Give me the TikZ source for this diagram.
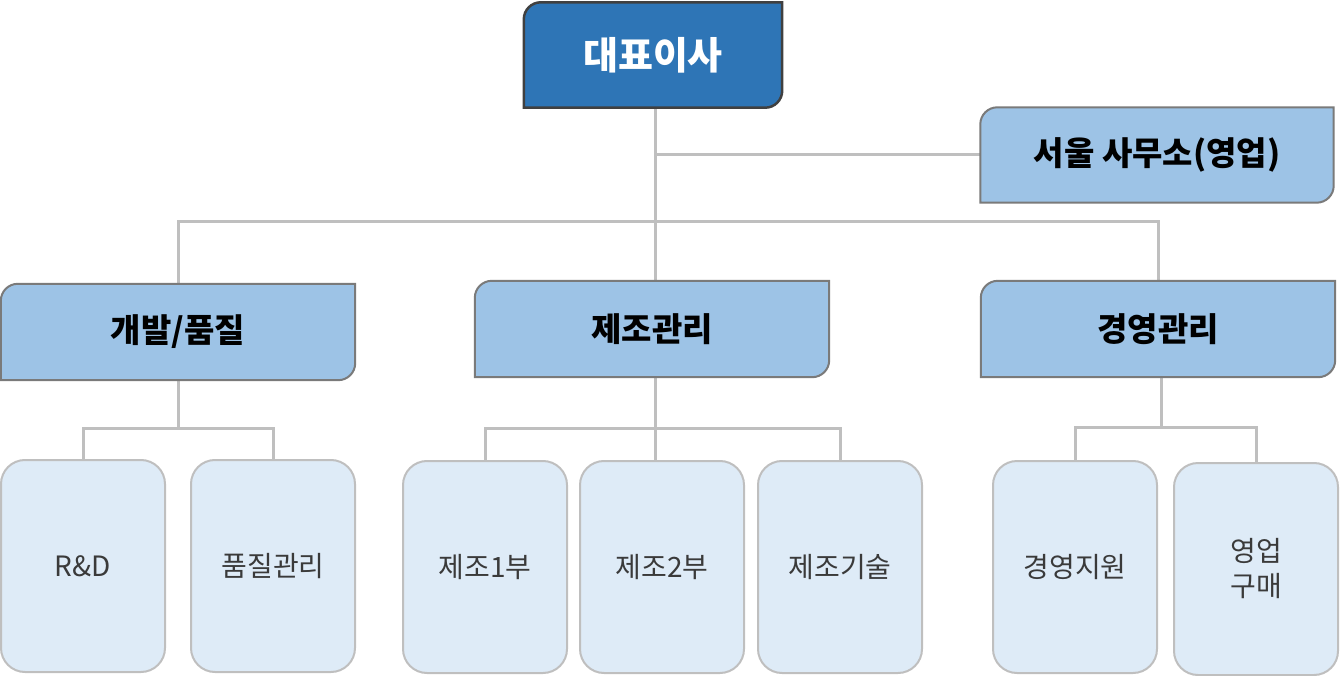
\documentclass[tikz,border=0pt]{standalone}
\usepackage{fontspec}
\newfontfamily\kr{Noto Sans CJK KR}
\usetikzlibrary{backgrounds}
\definecolor{ceofill}{HTML}{2E75B6}
\definecolor{deptfill}{HTML}{9DC3E6}
\definecolor{teamfill}{HTML}{DEEBF7}
\definecolor{linegray}{HTML}{BFBFBF}
\definecolor{edgegray}{HTML}{7A7A7A}
\definecolor{ink}{HTML}{3A3A3A}
\tikzset{
  headbox/.style={minimum width=354, minimum height=96, inner sep=0,
    font=\kr\bfseries\fontsize{33}{38}\selectfont},
  teambox/.style={draw=linegray, line width=2, fill=teamfill, rounded corners=24,
    minimum width=164, minimum height=212, inner sep=0, text=ink, align=center,
    font=\kr\fontsize{28}{35}\selectfont},
  link/.style={draw=linegray, line width=3}
}
\begin{document}
\begin{tikzpicture}[x=1pt,y=-1pt]
  \useasboundingbox (0,0) rectangle (1341,676);

  % top
  \node[headbox, minimum width=258, minimum height=105, text=white,
    font=\kr\bfseries\fontsize{38}{42}\selectfont] (ceo) at (653,55) {대표이사};
  \node[headbox, minimum width=353, minimum height=95] (seoul) at (1157,155) {서울 사무소(영업)};

  % departments
  \node[headbox] (dev) at (178,332) {개발/품질};
  \node[headbox] (mfg) at (652,329) {제조관리};
  \node[headbox] (mgmt) at (1158,329) {경영관리};

  % teams
  \node[teambox] (rd) at (83,566) {R\&D};
  \node[teambox] (qc) at (273,566) {품질관리};
  \node[teambox] (m1) at (485,567) {제조1부};
  \node[teambox] (m2) at (662,567) {제조2부};
  \node[teambox] (mt) at (840,567) {제조기술};
  \node[teambox] (ms) at (1075,567) {경영지원};
  \node[teambox] (sp) at (1256,569) {영업\\구매};

  \begin{scope}[on background layer]
  \draw[link] (655,107) -- (655,281);
  \draw[link] (655,155) -- (seoul.west);
  \draw[link] (dev.north) |- (655,222) -| (mgmt.north);

  \draw[link] (dev.south) -- (178,428);
  \draw[link] (rd.north) |- (178,428) -| (qc.north);
  \draw[link] (655,377) -- (655,461);
  \draw[link] (m1.north) |- (655,428) -| (mt.north);
  \draw[link] (1161,377) -- (1161,427);
  \draw[link] (ms.north) |- (1161,427) -| (sp.north);

  \foreach \n/\c/\e/\w in {ceo/ceofill/black!75/2.5, seoul/deptfill/edgegray/2, dev/deptfill/edgegray/2,
      mfg/deptfill/edgegray/2, mgmt/deptfill/edgegray/2}
    \draw[fill=\c, draw=\e, line width=\w] (\n.south west) -- ([yshift=-17pt]\n.north west) arc(180:90:17pt)
      -- (\n.north east) -- ([yshift=17pt]\n.south east) arc(0:-90:17pt) -- cycle;
  \end{scope}
\end{tikzpicture}
\end{document}
